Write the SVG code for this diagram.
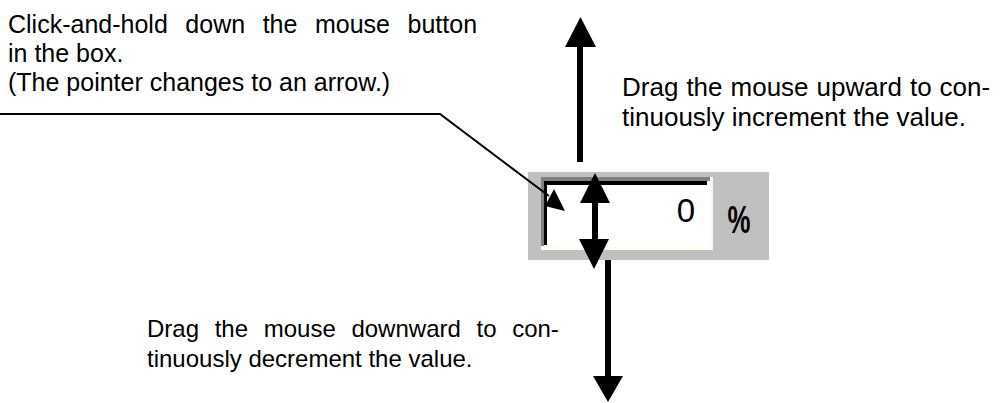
<svg xmlns="http://www.w3.org/2000/svg" width="1000" height="403" viewBox="0 0 1000 403">
  <style>
    .lbl { font-family: "Liberation Sans", Arial, sans-serif; font-size: 25px; fill: #000; }
    .lbl-up { font-size: 26px; }
    .lbl-down { font-size: 24px; }
    .lead { fill: none; stroke: #000; stroke-width: 2; }
    .shaft { fill: #000; }
    .head { fill: #000; }
  </style>
  <rect width="1000" height="403" fill="#fff"/>

  <!-- spin field widget -->
  <g id="spin-field">
    <rect x="528" y="172" width="241" height="88" fill="#c0c0c0"/>
    <rect x="541" y="177" width="172" height="73" fill="#fffbf0"/>
    <rect x="541" y="177" width="169" height="4" fill="#808080"/>
    <rect x="541" y="177" width="3" height="69" fill="#808080"/>
    <rect x="544" y="181" width="163" height="4" fill="#000"/>
    <rect x="544" y="181" width="3" height="64" fill="#000"/>
    <rect x="547" y="185" width="163" height="62" fill="#fff"/>
    <text x="686" y="222" text-anchor="middle" font-family="Liberation Sans, Arial, sans-serif" font-size="33">0</text>
    <text transform="translate(739,233) scale(0.68,1)" text-anchor="middle" font-family="Liberation Sans, Arial, sans-serif" font-weight="bold" font-size="38">%</text>
  </g>

  <!-- text labels -->
  <g id="label-click">
    <text class="lbl" x="8" y="33" word-spacing="10.6">Click-and-hold down the mouse button</text>
    <text class="lbl" x="8" y="62">in the box.</text>
    <text class="lbl" x="8" y="91">(The pointer changes to an arrow.)</text>
  </g>
  <g id="label-up">
    <text class="lbl lbl-up" x="622" y="96" word-spacing="0.8">Drag the mouse upward to con-</text>
    <text class="lbl lbl-up" x="622" y="126">tinuously increment the value.</text>
  </g>
  <g id="label-down">
    <text class="lbl lbl-down" x="147" y="337" word-spacing="9">Drag the mouse downward to con-</text>
    <text class="lbl lbl-down" x="147" y="367">tinuously decrement the value.</text>
  </g>

  <!-- connectors: leader line, pointer and drag arrows -->
  <g id="connectors">
    <polyline class="lead" points="0,114 440,114 549,196"/>
    <polygon class="head" points="554,189 545,206 565,211"/>

    <!-- upward drag -->
    <rect class="shaft" x="577" y="46" width="6" height="116"/>
    <polygon class="head" points="580.5,17 565,47 596,47"/>

    <!-- double arrow inside the field -->
    <rect class="shaft" x="592" y="202" width="6" height="38"/>
    <polygon class="head" points="595,173 580,203 610,203"/>
    <polygon class="head" points="594,269 579,239 609,239"/>

    <!-- downward drag -->
    <rect class="shaft" x="605" y="260" width="6" height="117"/>
    <polygon class="head" points="608,402 593,376 623,376"/>
  </g>
</svg>
